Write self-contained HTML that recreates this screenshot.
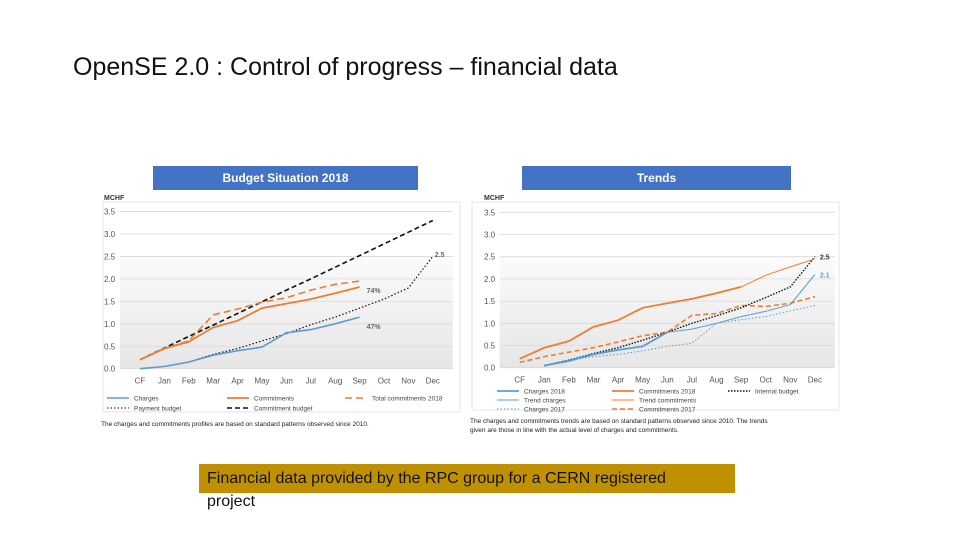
<!DOCTYPE html>
<html><head><meta charset="utf-8"><style>
body{margin:0;background:#fff;font-family:"Liberation Sans",sans-serif}
#slide{position:relative;width:960px;height:540px;overflow:hidden;background:#fff}
.t{position:absolute}
</style></head><body>
<div id="slide">
<div class="t" style="left:73px;top:53px;font-size:25px;color:#111;white-space:nowrap">OpenSE 2.0 : Control of progress – financial data</div>
<svg id="c" class="t" style="left:0;top:0" width="960" height="540"></svg>
<div class="t" style="left:199px;top:464px;width:536px;height:29px;background:#BF9000"></div>
<div class="t" style="left:207px;top:467px;width:475px;font-size:16px;line-height:23px;color:#111">Financial data provided by the RPC group for a CERN registered project</div>
</div>
<script>
const months=["CF","Jan","Feb","Mar","Apr","May","Jun","Jul","Aug","Sep","Oct","Nov","Dec"];
const yTicks=[0,0.5,1,1.5,2,2.5,3,3.5];
// left chart
const L_charges=[0,0.05,0.15,0.3,0.4,0.48,0.8,0.87,1.0,1.15];
const L_commit=[0.2,0.45,0.6,0.92,1.07,1.35,1.45,1.55,1.68,1.82];
const L_totalCommit=[0.2,0.45,0.62,1.2,1.33,1.48,1.58,1.75,1.88,1.95];
const L_payBudget=[null,0.05,0.15,0.32,0.45,0.62,0.78,0.98,1.15,1.35,1.55,1.8,2.5];
const L_commitBudget=[0.2,0.46,0.72,0.97,1.23,1.49,1.75,2.0,2.26,2.52,2.78,3.04,3.3];
// right chart
const R_charges18=[null,0.05,0.15,0.3,0.4,0.48,0.8];
const R_trendCharges=[null,null,null,null,null,null,0.8,0.87,1.0,1.15,1.27,1.42,2.1];
const R_commit18=[0.2,0.45,0.6,0.92,1.07,1.35,1.45,1.55,1.68,1.82];
const R_trendCommit=[null,null,null,null,null,null,null,null,null,1.82,2.08,2.27,2.45];
const R_internal=[null,0.05,0.17,0.32,0.45,0.62,0.8,1.0,1.17,1.35,1.58,1.82,2.5];
const R_charges17=[null,0.03,0.18,0.25,0.3,0.38,0.48,0.55,1.0,1.08,1.15,1.28,1.4];
const R_commit17=[0.12,0.25,0.35,0.45,0.58,0.72,0.8,1.18,1.22,1.4,1.38,1.45,1.6];

const svg=document.getElementById('c');const NS='http://www.w3.org/2000/svg';
function el(t,a,p){const e=document.createElementNS(NS,t);for(const k in a)e.setAttribute(k,a[k]);(p||svg).appendChild(e);return e;}
function txt(x,y,s,size,fill,anchor,w){const e=el('text',{x:x,y:y,'font-size':size,fill:fill,'text-anchor':anchor||'start','font-weight':w||'normal','font-family':'Liberation Sans, sans-serif'});e.textContent=s;return e;}
function chart(o){
  const g=el('g',{});
  
  
  el('rect',{x:o.fx,y:o.fy,width:o.fw,height:o.fh,fill:'#fff',stroke:'#e4e4e4'},g);
  const tb=el('rect',{x:o.tx,y:166,width:o.tw,height:24,fill:'#4472C4'},g);
  
  
  const tt=txt(o.tx+o.tw/2,182,o.title,12,'#fff','middle','bold');g.appendChild(tt);
  
  
  const X=i=>o.x0+i*o.step, Y=v=>o.y0-v*o.unit;
  el('rect',{x:o.x0-20,y:Y(2.5),width:o.step*12+40,height:Y(0)-Y(2.5),fill:'url(#grad)'},g);
  yTicks.forEach(v=>{el('line',{x1:o.x0-20,x2:o.x0+o.step*12+20,y1:Y(v),y2:Y(v),stroke:'#d9d9d9','stroke-width':0.8},g);
    const t=txt(o.ylx,Y(v)+3,v.toFixed(1),8,'#555','start');g.appendChild(t);
    });
  months.forEach((m,i)=>{const t=txt(X(i),Y(0)+15,m,8,'#555','middle');g.appendChild(t);
    });
  const u=txt(o.ylx,200,'MCHF',7,'#333','start','bold');g.appendChild(u);
  o.series.forEach(s=>{let d='';let pen=false;s.data.forEach((v,i)=>{if(v==null){pen=false;return;}d+=(pen?'L':'M')+X(i).toFixed(1)+','+Y(v).toFixed(1);pen=true;});
    const p=el('path',{d:d,fill:'none',stroke:s.c,'stroke-width':s.w,'stroke-dasharray':s.dash||'none'},g);
    });
  (o.labels||[]).forEach(l=>{const t=txt(X(l[0])+l[3],Y(l[1])+3,l[2],7,l[4],'start','bold');g.appendChild(t);
    });
  o.legend.forEach(l=>{el('line',{x1:l[0],x2:l[0]+22,y1:l[1],y2:l[1],stroke:l[3],'stroke-width':l[4],'stroke-dasharray':l[5]||'none'},g);
    const t=txt(l[0]+27,l[1]+2.5,l[2],6.5,'#444');g.appendChild(t);
    });
  const n=txt(o.fx-2,o.noteY,o.note[0],6.5,'#222');g.appendChild(n);
  if(o.note[1])g.appendChild(txt(o.fx-2,o.noteY+9,o.note[1],6.5,'#222'));
}
const defs=el('defs',{});const lg=el('linearGradient',{id:'grad',x1:0,y1:0,x2:0,y2:1},defs);
el('stop',{offset:0,'stop-color':'#fbfbfb'},lg);el('stop',{offset:1,'stop-color':'#e6e6e6'},lg);
const blue='#5B9BD5',org='#ED7D31';
chart({name:'budget-chart',fx:103,fy:202,fw:357,fh:210,tx:153,tw:265,title:'Budget Situation 2018',x0:140,step:24.4,y0:368.7,unit:44.9,ylx:104,
 series:[{n:'commitment-budget-line',data:L_commitBudget,c:'#111',w:1.6,dash:'5,3'},{n:'payment-budget-line',data:L_payBudget,c:'#111',w:1.2,dash:'1.5,2'},
 {n:'total-commitments-line',data:L_totalCommit,c:org,w:1.6,dash:'7,4'},{n:'commitments-line',data:L_commit,c:org,w:1.8},{n:'charges-line',data:L_charges,c:blue,w:1.6}],
 labels:[[9,1.75,'74%',7,'#666'],[9,0.95,'47%',7,'#666'],[12,2.55,'2.5',2,'#666']],
 legend:[[107,398,'Charges',blue,1.6],[227,398,'Commitments',org,1.8],[345,398,'Total commitments 2018',org,1.6,'7,4'],[107,408,'Payment budget','#111',1,'1.5,2'],[227,408,'Commitment budget','#111',1.6,'5,3']],
 note:['The charges and commitments profiles are based on standard patterns observed since 2010.'],noteY:426});
chart({name:'trends-chart',fx:472,fy:202,fw:367,fh:208,tx:522,tw:269,title:'Trends',x0:519.7,step:24.6,y0:367.7,unit:44.4,ylx:484,
 series:[{n:'commitments-2017-line',data:R_commit17,c:org,w:1.6,dash:'5,3'},{n:'charges-2017-line',data:R_charges17,c:blue,w:1,dash:'1.5,2'},
 {n:'internal-budget-line',data:R_internal,c:'#111',w:1.4,dash:'1.5,1.5'},{n:'trend-commitments-line',data:R_trendCommit,c:org,w:1},{n:'commitments-2018-line',data:R_commit18,c:org,w:1.8},
 {n:'trend-charges-line',data:R_trendCharges,c:blue,w:1},{n:'charges-2018-line',data:R_charges18,c:blue,w:1.8}],
 labels:[[12,2.5,'2.5',5,'#333'],[12,2.1,'2.1',5,blue]],
 legend:[[497,391,'Charges 2018',blue,1.8],[612,391,'Commitments 2018',org,1.8],[728,391,'Internal budget','#111',1.4,'1.5,1.5'],[497,400,'Trend charges',blue,1],[612,400,'Trend commitments',org,1],[497,409,'Charges 2017',blue,1,'1.5,2'],[612,409,'Commitments 2017',org,1.6,'5,3']],
 note:['The charges and commitments trends are based on standard patterns observed since 2010. The trends','given are those in line with the actual level of charges and commitments.'],noteY:423});
</script>
</body></html>
